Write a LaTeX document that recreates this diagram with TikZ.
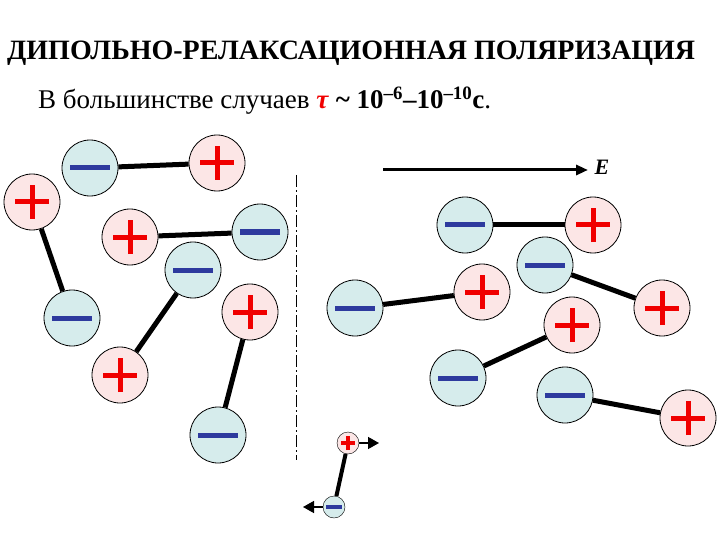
\documentclass[tikz,border=0pt]{standalone}
\usepackage{fontspec}
\setmainfont{Liberation Serif}
\usetikzlibrary{arrows.meta,patterns}
\definecolor{pfill}{HTML}{FCE6E6}
\definecolor{mfill}{HTML}{D6ECEC}
\definecolor{pred}{HTML}{F00000}
\definecolor{mblue}{HTML}{2E3A9E}
\tikzset{
 plusion/.style={circle,draw,thick,fill=pfill,minimum size=56pt,inner sep=0pt,
   path picture={\draw[pred,line width=5pt] (path picture bounding box.center)+(-17pt,0)--+(17pt,0);
                 \draw[pred,line width=5pt] (path picture bounding box.center)+(0,-17pt)--+(0,17pt);}},
 minusion/.style={circle,draw,thick,fill=mfill,minimum size=56pt,inner sep=0pt,
   path picture={\draw[mblue,line width=5pt] (path picture bounding box.center)+(-20pt,0)--+(20pt,0);}},
 splus/.style={circle,draw,fill=pfill,minimum size=22pt,inner sep=0pt,
   path picture={\draw[pred,line width=3.5pt] (path picture bounding box.center)+(-7pt,0)--+(7pt,0);
                 \draw[pred,line width=3.5pt] (path picture bounding box.center)+(0,-7pt)--+(0,7pt);}},
 sminus/.style={circle,draw,fill=mfill,minimum size=22pt,inner sep=0pt,
   path picture={\draw[mblue,line width=3.5pt] (path picture bounding box.center)+(-8pt,0)--+(8pt,0);}},
 bond/.style={line width=5pt},
}
\begin{document}
\begin{tikzpicture}[x=1pt,y=-1pt]
\useasboundingbox (0,0) rectangle (720,540);
\node[anchor=west,inner sep=0pt,font=\bfseries\fontsize{28}{30}\selectfont] (t1) at (7,53) {ДИПОЛЬНО-РЕЛАКСАЦИОННАЯ ПОЛЯРИЗАЦИЯ};
\node[anchor=west,inner sep=0pt,font=\fontsize{27}{29}\selectfont] (t2) at (38,101) {В большинстве случаев \textcolor{pred}{\textbf{\textit{τ}}} \textbf{\textasciitilde{} 10\textsuperscript{–6}–10\textsuperscript{–10}с}.};
% left
\node[plusion] (A) at (32,202) {}; \node[minusion] (B) at (90,168) {};
\node[plusion] (C) at (217,163) {}; \node[plusion] (D) at (130,237) {};
\node[minusion] (E) at (260,232) {}; \node[minusion] (F) at (72,318) {};
\node[minusion] (G) at (193,270) {}; \node[plusion] (H) at (120,375) {};
\node[plusion] (I) at (250,312) {}; \node[minusion] (J) at (218,435) {};
\draw[bond] (B)--(C); \draw[bond] (D)--(E); \draw[bond] (A)--(F);
\draw[bond] (G)--(H); \draw[bond] (I)--(J);
\draw[thick,dash pattern=on 12pt off 3pt on 2pt off 3pt] (296,175)--(296,460);
% field
\coordinate (e1) at (383,170); \coordinate (e2) at (588,170);
\draw[line width=3pt,-{Triangle[length=12pt,width=10pt]}] (e1)--(e2);
\node[font=\bfseries\itshape\fontsize{22}{24}\selectfont] (El) at (602,167) {E};
% right
\node[minusion] (K) at (465,225) {}; \node[plusion] (L) at (593,225) {};
\node[minusion] (M) at (355,308) {}; \node[plusion] (N) at (482,292) {};
\node[minusion] (O) at (545,265) {}; \node[plusion] (P) at (662,308) {};
\node[plusion] (Q) at (572,325) {}; \node[minusion] (R) at (458,378) {};
\node[minusion] (S) at (565,395) {}; \node[plusion] (T) at (688,418) {};
\draw[bond] (K)--(L); \draw[bond] (M)--(N); \draw[bond] (O)--(P);
\draw[bond] (Q)--(R); \draw[bond] (S)--(T);
% small dipole
\node[splus] (sp) at (348,443) {}; \node[sminus] (sn) at (334,507) {};
\draw[line width=4pt] (sp)--(sn);
\coordinate (ap) at (379,443); \coordinate (an) at (303,507);
\draw[-{Triangle[length=11pt,width=12pt]},line width=1.5pt] (sp.east)--(ap);
\draw[-{Triangle[length=11pt,width=12pt]},line width=1.5pt] (sn.west)--(an);
\end{tikzpicture}
\end{document}
